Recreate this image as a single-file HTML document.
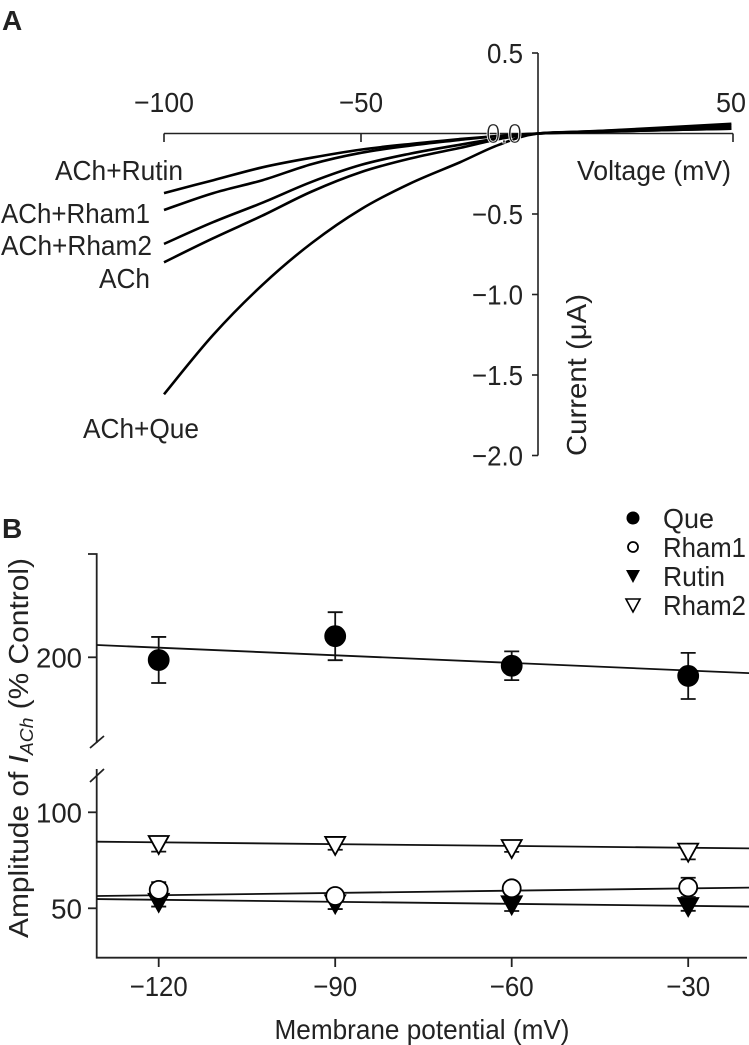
<!DOCTYPE html>
<html><head><meta charset="utf-8">
<style>
html,body{margin:0;padding:0;background:#fff;}
svg{display:block;font-family:"Liberation Sans",sans-serif;}
text{fill:#222;}
</style></head>
<body>
<svg id="fig" width="749" height="1045" viewBox="0 0 749 1045">
  <text x="2" y="30" font-size="28" font-weight="bold">A</text>
  <text x="2" y="538" font-size="28" font-weight="bold">B</text>
  <g id="pa"></g>
  <g id="pb"></g>
</svg>
<script>
// ---------- Panel A data ----------
const voltA = [-100,-87.5,-75,-62.5,-50,-37.5,-25,-15,-5,10,25,44];
const curRutin = [-0.37,-0.29,-0.21,-0.15,-0.10,-0.065,-0.035,-0.015,0,0.01,0.02,0.03];
const curRham1 = [-0.475,-0.37,-0.29,-0.19,-0.12,-0.075,-0.04,-0.015,0,0.012,0.025,0.04];
const curRham2 = [-0.686,-0.55,-0.43,-0.30,-0.195,-0.125,-0.07,-0.03,0,0.015,0.03,0.05];
const curACh = [-0.80,-0.65,-0.51,-0.36,-0.24,-0.155,-0.09,-0.035,0,0.015,0.035,0.06];
const curQue = [-1.62,-1.25,-0.94,-0.68,-0.47,-0.31,-0.18,-0.07,0,0.01,0.02,0.03];
const seriesNamesA = ["ACh+Rutin","ACh+Rham1","ACh+Rham2","ACh","ACh+Que"];
const xTicksA = [-100,-50];
const yTicksA = [0.5,-0.5,-1.0,-1.5,-2.0];
const yTickLabelsA = ["0.5","\u22120.5","\u22121.0","\u22121.5","\u22122.0"];

// ---------- Panel B data ----------
const potB = [-120,-90,-60,-30];
const queVals = [198.6,211,195.6,190.3];
const queErr = [12,12.5,7.5,12];
const rham1Vals = [59.6,56.4,60.4,60.9];
const rham1Err = [4,1.5,3,5];
const rutinVals = [53.4,52.6,52.1,51.2];
const rutinErr = [2.5,3,3.5,2.5];
const rham2Vals = [83.5,83,81.4,79.5];
const rham2Err = [4,2.5,2,4];
const fitRange = [-130.5,-19.3];
const queFit = [206.4,191.7];
const rham1Fit = [56.4,60.8];
const rutinFit = [54.8,50.9];
const rham2Fit = [84.7,81.2];
const xTicksB = [-120,-90,-60,-30];
const yTicksUpper = [200];
const yTicksLower = [100,50];

const NS="http://www.w3.org/2000/svg";
function mk(parent,tag,attrs,txt){const e=document.createElementNS(NS,tag);for(const k in attrs)e.setAttribute(k,attrs[k]);if(txt!==undefined)e.textContent=txt;parent.appendChild(e);return e;}
function txt(parent,x,y,s,len,anchor,extra){
  const a=Object.assign({x:x,y:y,'font-size':28,'text-anchor':anchor||'start',textLength:len,lengthAdjust:'spacingAndGlyphs'},extra||{});
  return mk(parent,'text',a,s);
}
function smoothPath(pts){
  let d='M'+pts[0][0].toFixed(1)+','+pts[0][1].toFixed(1);
  for(let i=0;i<pts.length-1;i++){
    const p0=pts[i-1]||pts[i],p1=pts[i],p2=pts[i+1],p3=pts[i+2]||p2;
    const c1=[p1[0]+(p2[0]-p0[0])/6,p1[1]+(p2[1]-p0[1])/6];
    const c2=[p2[0]-(p3[0]-p1[0])/6,p2[1]-(p3[1]-p1[1])/6];
    d+=` C${c1[0].toFixed(1)},${c1[1].toFixed(1)} ${c2[0].toFixed(1)},${c2[1].toFixed(1)} ${p2[0].toFixed(1)},${p2[1].toFixed(1)}`;
  }
  return d;
}

// ---- Panel A ----
const pa=document.getElementById('pa');
const xA=v=>164+(v+100)*197/50;
const yA=i=>133.5-i*161;
let e;
e=mk(pa,'line',{x1:164,y1:133.5,x2:733,y2:133.5,stroke:'#222','stroke-width':1.6});
 
xTicksA.forEach((t,i)=>{
  e=mk(pa,'line',{x1:xA(t),y1:133.5,x2:xA(t),y2:142,stroke:'#222','stroke-width':1.6});
   
  e=txt(pa,xA(t),112,'\u2212'+Math.abs(t),t===-100?60:44,'middle');
   
});
e=mk(pa,'line',{x1:733,y1:133.5,x2:733,y2:142,stroke:'#222','stroke-width':1.6});
 
e=txt(pa,731,112,'50',30,'middle');
 
e=mk(pa,'line',{x1:538,y1:yA(0.5),x2:538,y2:yA(-2.0),stroke:'#222','stroke-width':1.6});
 
yTicksA.forEach((t,i)=>{
  e=mk(pa,'line',{x1:532,y1:yA(t),x2:538,y2:yA(t),stroke:'#222','stroke-width':1.6});
   
  e=txt(pa,523,yA(t)+10,yTickLabelsA[i],i===0?36:51,'end');
   
});
const seriesA=[curRutin,curRham1,curRham2,curACh,curQue];
seriesA.forEach((s,k)=>{
  const pts=voltA.map((v,i)=>[xA(v),yA(s[i])]);
  e=mk(pa,'path',{d:smoothPath(pts),fill:'none',stroke:'#000','stroke-width':2.6,'stroke-linejoin':'round'});
  
  
});
e=txt(pa,522,143,'0.0',36,'end',{stroke:'#fff','stroke-width':0.8});
 
const labYA=[180,223,255,288,438];
const labXA=[183,150,152,150,199];
const labLenA=[128,149,151,51,116];
seriesNamesA.forEach((n,k)=>{
  e=txt(pa,labXA[k],labYA[k],n,labLenA[k],'end');
   
});
e=txt(pa,731,180,'Voltage (mV)',154,'end');
 
e=txt(pa,0,0,'Current (\u03bcA)',162,'middle',{transform:'translate(586,375) rotate(-90)'});
 

// ---- Panel B ----
const pb=document.getElementById('pb');
const xB=v=>158.7+(v+120)*176.5/30;
const yU=v=>657.3-(v-200)*1.92;
const yL=v=>812.3-(v-100)*1.92;
const ax='#222';
e=mk(pb,'path',{d:'M88,554 H96.7 V743 M96.7,769 V957.7 H747',fill:'none',stroke:ax,'stroke-width':1.8});
 
e=mk(pb,'path',{d:'M90,748 L104,736 M90,782 L104,769',stroke:ax,'stroke-width':1.8});
 
yTicksUpper.forEach(t=>{
  e=mk(pb,'line',{x1:88,y1:yU(t),x2:96.7,y2:yU(t),stroke:ax,'stroke-width':1.8});
   
  e=txt(pb,82,yU(t)+10,String(t),46,'end');
   
});
yTicksLower.forEach(t=>{
  e=mk(pb,'line',{x1:88,y1:yL(t),x2:96.7,y2:yL(t),stroke:ax,'stroke-width':1.8});
   
  e=txt(pb,82,yL(t)+10,String(t),t>=100?46:31,'end');
   
});
xTicksB.forEach(t=>{
  e=mk(pb,'line',{x1:xB(t),y1:957.7,x2:xB(t),y2:967,stroke:ax,'stroke-width':1.8});
   
  e=txt(pb,xB(t),996,'\u2212'+Math.abs(t),t<=-100?58:44,'middle');
   
});
e=txt(pb,422,1039,'Membrane potential (mV)',295,'middle');
 
const yt=mk(pb,'text',{x:0,y:0,'font-size':28,'text-anchor':'middle',textLength:380,lengthAdjust:'spacingAndGlyphs',transform:'translate(28,748) rotate(-90)'});
 
mk(yt,'tspan',{},'Amplitude of ');
mk(yt,'tspan',{'font-style':'italic'},'I');
mk(yt,'tspan',{'font-style':'italic','font-size':18,dy:5},'ACh');
mk(yt,'tspan',{dy:-5},' (% Control)');

// fit lines
[[queFit,yU,'que'],[rham2Fit,yL,'rham2'],[rham1Fit,yL,'rham1'],[rutinFit,yL,'rutin']].forEach(([f,ys,n])=>{
  e=mk(pb,'line',{x1:xB(fitRange[0]),y1:ys(f[0]),x2:xB(fitRange[1]),y2:ys(f[1]),stroke:'#111','stroke-width':1.8});
   
});
function errbar(x,y1,y2,n){
  e=mk(pb,'path',{d:`M${x},${y1} V${y2} M${x-7.5},${y1} H${x+7.5} M${x-7.5},${y2} H${x+7.5}`,stroke:'#111','stroke-width':1.8,fill:'none'});
   
}
function tri(x,y,fill,n){
  e=mk(pb,'path',{d:`M${x-10},${y-8} H${x+10} L${x},${y+10} Z`,fill:fill,stroke:'#000','stroke-width':1.8});
   
}
function circ(x,y,fill,r,n){
  e=mk(pb,'circle',{cx:x,cy:y,r:r,fill:fill,stroke:'#000','stroke-width':1.8});
   
}
potB.forEach((p,i)=>{
  const x=xB(p);
  errbar(x,yL(rutinVals[i]+rutinErr[i]),yL(rutinVals[i]-rutinErr[i]),'rutin');
  tri(x,yL(rutinVals[i]),'#000','rutin');
  errbar(x,yL(rham1Vals[i]+rham1Err[i]),yL(rham1Vals[i]-rham1Err[i]),'rham1');
  circ(x,yL(rham1Vals[i]),'#fff',9,'rham1');
  errbar(x,yL(rham2Vals[i]+rham2Err[i]),yL(rham2Vals[i]-rham2Err[i]),'rham2');
  tri(x,yL(rham2Vals[i]),'#fff','rham2');
  errbar(x,yU(queVals[i]+queErr[i]),yU(queVals[i]-queErr[i]),'que');
  circ(x,yU(queVals[i]),'#000',10,'que');
});
// legend
const legNames=["Que","Rham1","Rutin","Rham2"];
const legLen=[51,83,62,83];
const legY=[518,547,576,605];
legNames.forEach((n,i)=>{
  const g=mk(pb,'g',{});
   
  const y=legY[i];
  if(n==="Que") mk(g,'circle',{cx:633,cy:y,r:6.5,fill:'#000'});
  if(n==="Rham1") mk(g,'circle',{cx:633,cy:y,r:5,fill:'#fff',stroke:'#000','stroke-width':1.8});
  if(n==="Rutin") mk(g,'path',{d:`M626,${y-6} H640 L633,${y+7} Z`,fill:'#000'});
  if(n==="Rham2") mk(g,'path',{d:`M626,${y-6} H640 L633,${y+7} Z`,fill:'#fff',stroke:'#000','stroke-width':1.6});
  txt(g,663,y+10,n,legLen[i],'start');
});
</script>
</body></html>
